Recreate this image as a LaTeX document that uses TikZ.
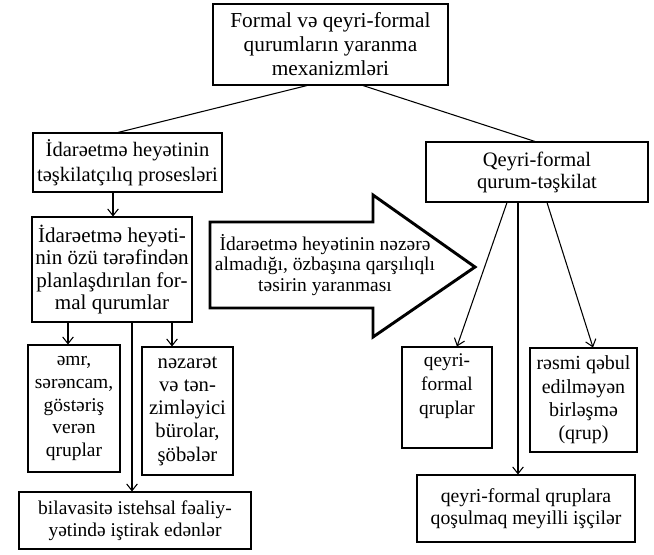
\documentclass[tikz,border=0pt]{standalone}
\usepackage{fontspec}
\setmainfont{Liberation Serif}
\usetikzlibrary{arrows.meta}
\begin{document}
\begin{tikzpicture}[x=0.75pt,y=-0.75pt,
  fs/.style 2 args={font=\fontsize{#1}{#2}\selectfont},
  box/.style={draw, line width=0.8pt, inner sep=0pt, align=center},
  plain/.style={inner sep=0pt, align=center},
  link/.style={line width=0.8pt},
  arr/.style={line width=0.8pt, -{Straight Barb[length=5pt,width=8pt]}},
  bigarrow/.style={draw, line width=2.2pt, line join=miter}]
\useasboundingbox (0,0) rectangle (654,554);

% top level
\node[box, fs={16}{18}, minimum width=176.25pt, minimum height=60.75pt] (top) at (330.5,44.5)
  {Formal və qeyri-formal\\qurumların yaranma\\mexanizmləri};

% formal branch
\node[box, fs={15.4}{18.5}, minimum width=141.75pt, minimum height=44.25pt] (l1) at (127.5,162.5)
  {İdarəetmə heyətinin\\təşkilatçılıq prosesləri};
\node[box, fs={15.8}{16.8}, minimum width=120pt, minimum height=78.75pt] (l2) at (112,269.5)
  {İdarəetmə heyəti-\\nin özü tərəfindən\\planlaşdırılan for-\\mal qurumlar};
\node[box, fs={14.6}{17}, minimum width=69pt, minimum height=95.25pt] (l3) at (74,408.5)
  {əmr,\\sərəncam,\\göstəriş\\verən\\qruplar};
\node[box, fs={15.5}{17.4}, minimum width=68.25pt, minimum height=96pt] (l4) at (187.5,411)
  {nəzarət\\və tən-\\zimləyici\\bürolar,\\şöbələr};
\node[box, fs={14.6}{16.5}, minimum width=174pt, minimum height=42.75pt] (l5) at (135,520.5)
  {bilavasitə istehsal fəaliy-\\yətində iştirak edənlər};

% informal branch
\node[box, fs={15.4}{16.5}, minimum width=166.5pt, minimum height=45pt] (r1) at (537,172)
  {Qeyri-formal\\qurum-təşkilat};
\node[box, minimum width=67.5pt, minimum height=75.75pt] (r2) at (447,397.5) {};
\node[plain, fs={14.5}{18}] (r2text) at (447,386) {qeyri-\\formal\\qruplar};
\node[box, fs={15}{17.5}, minimum width=80.25pt, minimum height=78pt] (r3) at (583.5,400)
  {rəsmi qəbul\\edilməyən\\birləşmə\\(qrup)};
\node[box, fs={14.8}{16.5}, minimum width=163.5pt, minimum height=50.25pt] (r4) at (526,508.5)
  {qeyri-formal qruplara\\qoşulmaq meyilli işçilər};

% big outline arrow between the branches
\draw[bigarrow] (210,222) -- (373,222) -- (373,195) -- (475,267)
  -- (373,337) -- (373,308) -- (210,308) -- cycle;
\node[plain, fs={14.6}{15.5}] (atext) at (325,265)
  {İdarəetmə heyətinin nəzərə\\almadığı, özbaşına qarşılıqlı\\təsirin yaranması};

% connectors
\draw[link] (top.south -| 307,0) -- (l1.north -| 118,0);
\draw[link] (top.south -| 363,0) -- (r1.north -| 535,0);
\draw[arr] (l1.south -| 113,0) -- (l2.north -| 113,0);
\draw[arr] (l2.south -| 68,0) -- (l3.north -| 68,0);
\draw[arr] (l2.south -| 172,0) -- (l4.north -| 172,0);
\draw[arr] (l2.south -| 132,0) -- (l5.north -| 132,0);
\draw[arr] (r1.south -| 507,0) -- (r2.north -| 457,0);
\draw[arr] (r1.south -| 518,0) -- (r4.north -| 518,0);
\draw[arr] (r1.south -| 547,0) -- (r3.north -| 593,0);
\end{tikzpicture}
\end{document}
